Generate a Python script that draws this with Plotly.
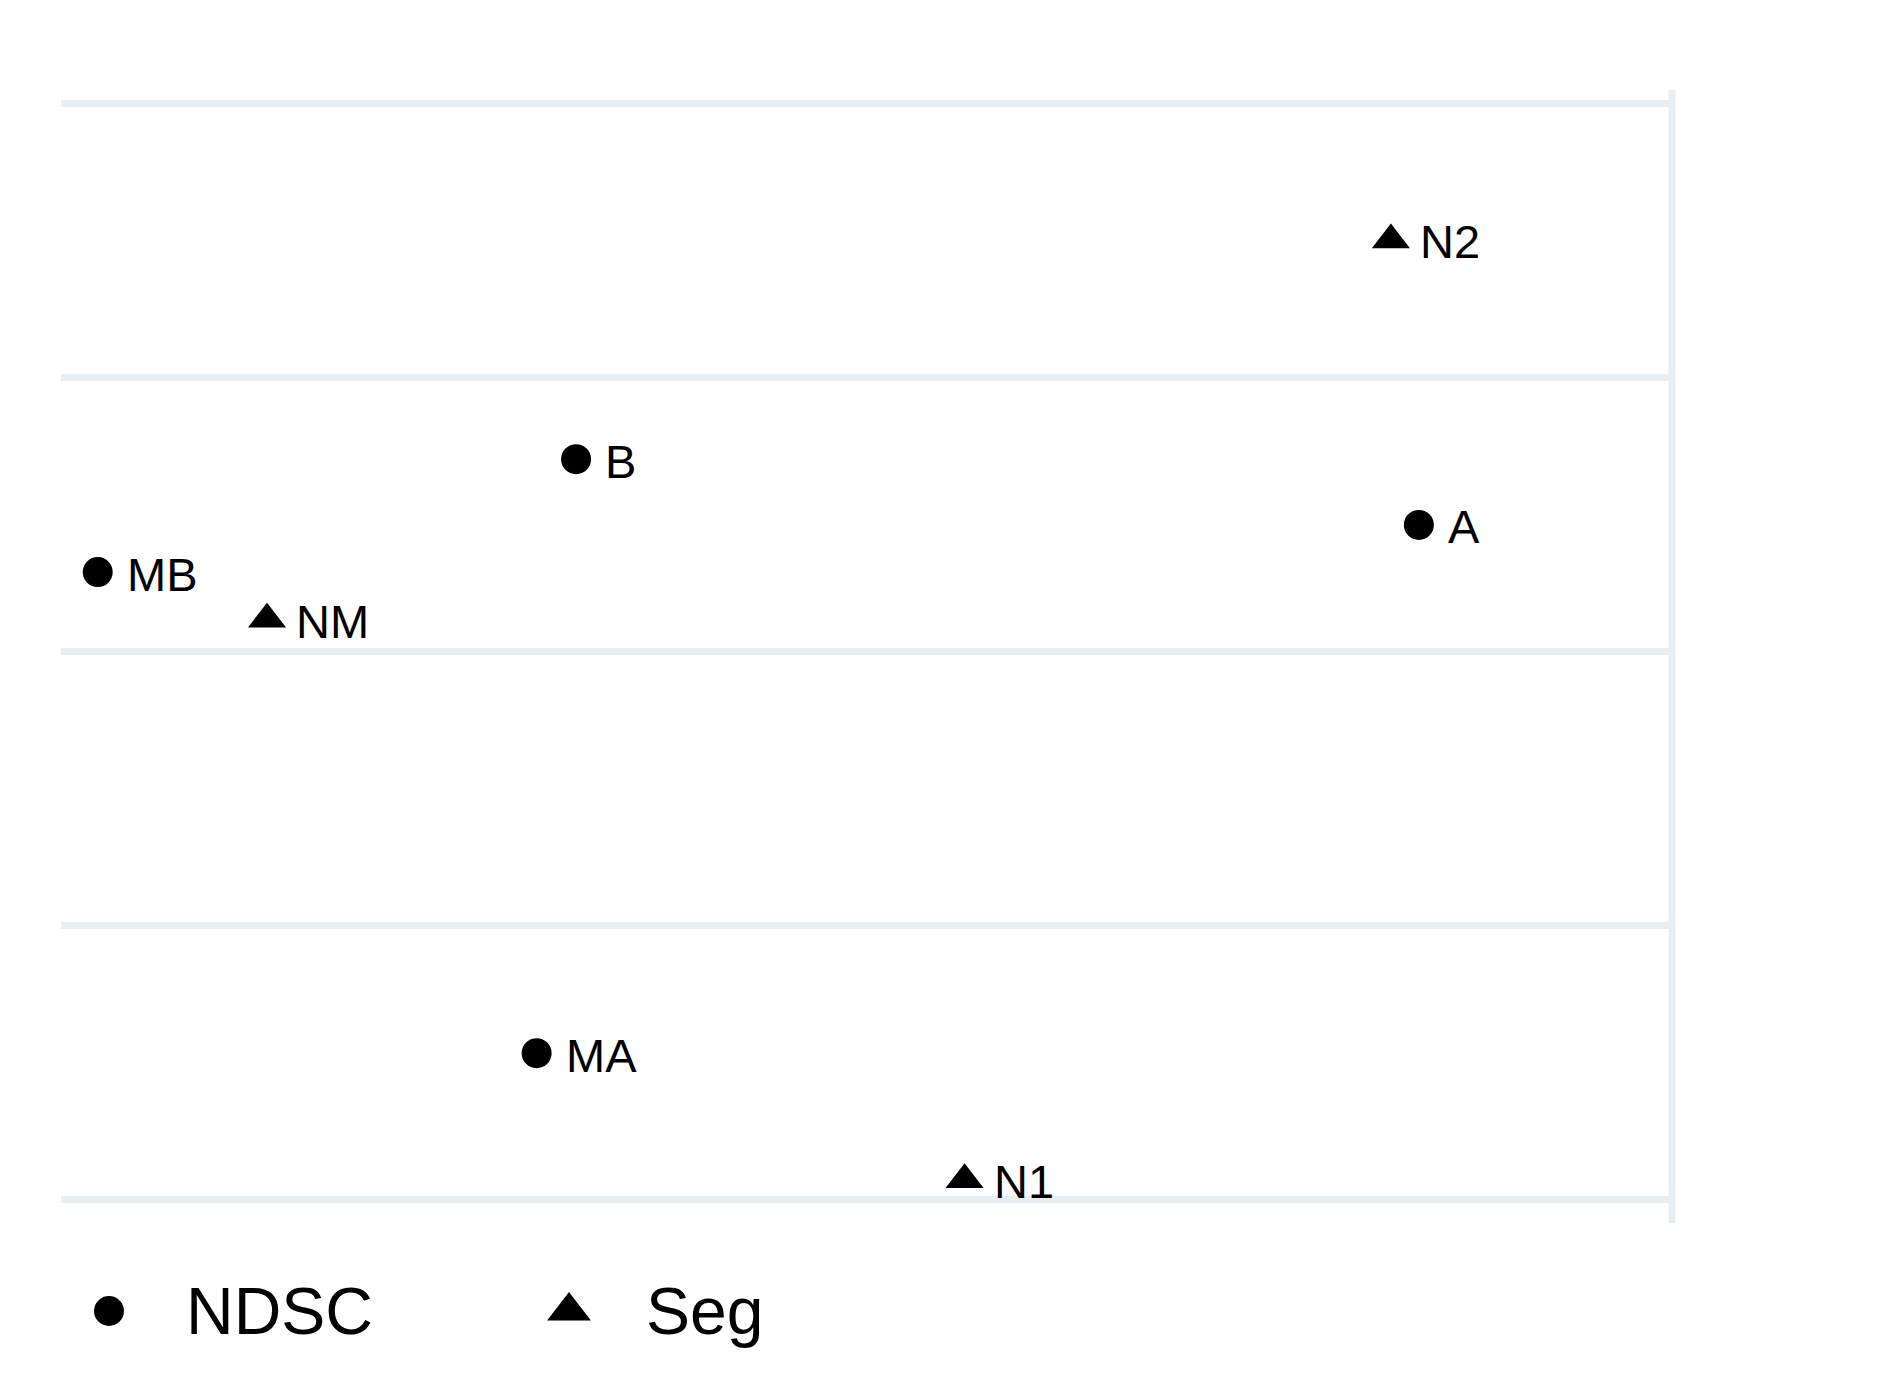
import plotly.graph_objects as go

# NDSC points
ndsc_labels = ["B", "A", "MB", "MA"]
ndsc_x = [-0.536, 1.002, -1.409, -0.608]
ndsc_y = [0.351, 0.231, 0.145, -0.733]

# Seg points
seg_labels = ["N2", "NM", "N1"]
seg_x = [0.951, -1.100, 0.173]
seg_y = [0.751, 0.059, -0.964]

grid_vals = [-1, -0.5, 0, 0.5, 1]

# legend entries
legend_names = ["NDSC", "Seg"]
legend_symbols = ["circle", "triangle-up"]

FONT = "Liberation Sans, Arial"

fig = go.Figure()
fig.add_trace(go.Scatter(
    x=ndsc_x, y=ndsc_y, name="NDSC", mode="markers",
    marker=dict(symbol="circle", size=30, color="black"),
))
fig.add_trace(go.Scatter(
    x=seg_x, y=seg_y, name="Seg", mode="markers",
    marker=dict(symbol="triangle-up", size=33, color="black"),
))

# point labels, right of each marker
for xs, ys, labs in [(ndsc_x, ndsc_y, ndsc_labels), (seg_x, seg_y, seg_labels)]:
    for x, y, lab in zip(xs, ys, labs):
        fig.add_annotation(x=x, y=y, text=lab, showarrow=False,
                           xanchor="left", yanchor="middle", xshift=27, yshift=-2,
                           font=dict(family=FONT, size=47, color="black"))

# hand-made legend on a second (pixel-scaled) axis below the plot
leg_sym_x = [109, 569]
leg_txt_x = [184, 644]
leg_y = 1311
leg_sizes = [30, 38]
for name, sym, sx, tx, sz in zip(legend_names, legend_symbols, leg_sym_x, leg_txt_x, leg_sizes):
    fig.add_trace(go.Scatter(
        x=[sx], y=[leg_y], mode="markers", name=name,
        marker=dict(symbol=sym, size=sz, color="black"),
        xaxis="x2", yaxis="y2", hoverinfo="skip",
    ))
    fig.add_annotation(x=tx, y=leg_y, xref="x2", yref="y2", text=name,
                       showarrow=False, xanchor="left", yanchor="middle",
                       font=dict(family=FONT, size=66, color="black"))

# light vertical line on the right edge
fig.add_shape(type="line", xref="x domain", yref="y domain",
              x0=1, x1=1, y0=0, y1=1,
              line=dict(color="#e8eff2", width=7))

# page has 8px body margin; plot area spans pixels 61..1672 x 90..1223
top_px, bottom_px, paper_bottom = 90, 1223, 1358
paper_h = paper_bottom - top_px
main_lo = (paper_bottom - bottom_px) / paper_h
leg_hi = (paper_bottom - 1238) / paper_h

fig.update_layout(
    width=1889, height=1398,
    margin=dict(l=53, r=225, t=82, b=1398 + 8 - paper_bottom),
    paper_bgcolor="white", plot_bgcolor="white",
    showlegend=False,
    xaxis=dict(range=[-1.476, 1.464], showgrid=False, zeroline=False,
               showticklabels=False, ticks=""),
    yaxis=dict(domain=[main_lo, 1], range=[-1.0429, 1.0246], tickvals=grid_vals,
               showgrid=True, gridcolor="#e8eff2", gridwidth=7, zeroline=False,
               showticklabels=False, ticks=""),
    xaxis2=dict(anchor="y2", range=[61, 1672], visible=False),
    yaxis2=dict(anchor="x2", domain=[0, leg_hi], range=[paper_bottom, 1238],
                visible=False),
)

fig.write_html("out.html")
